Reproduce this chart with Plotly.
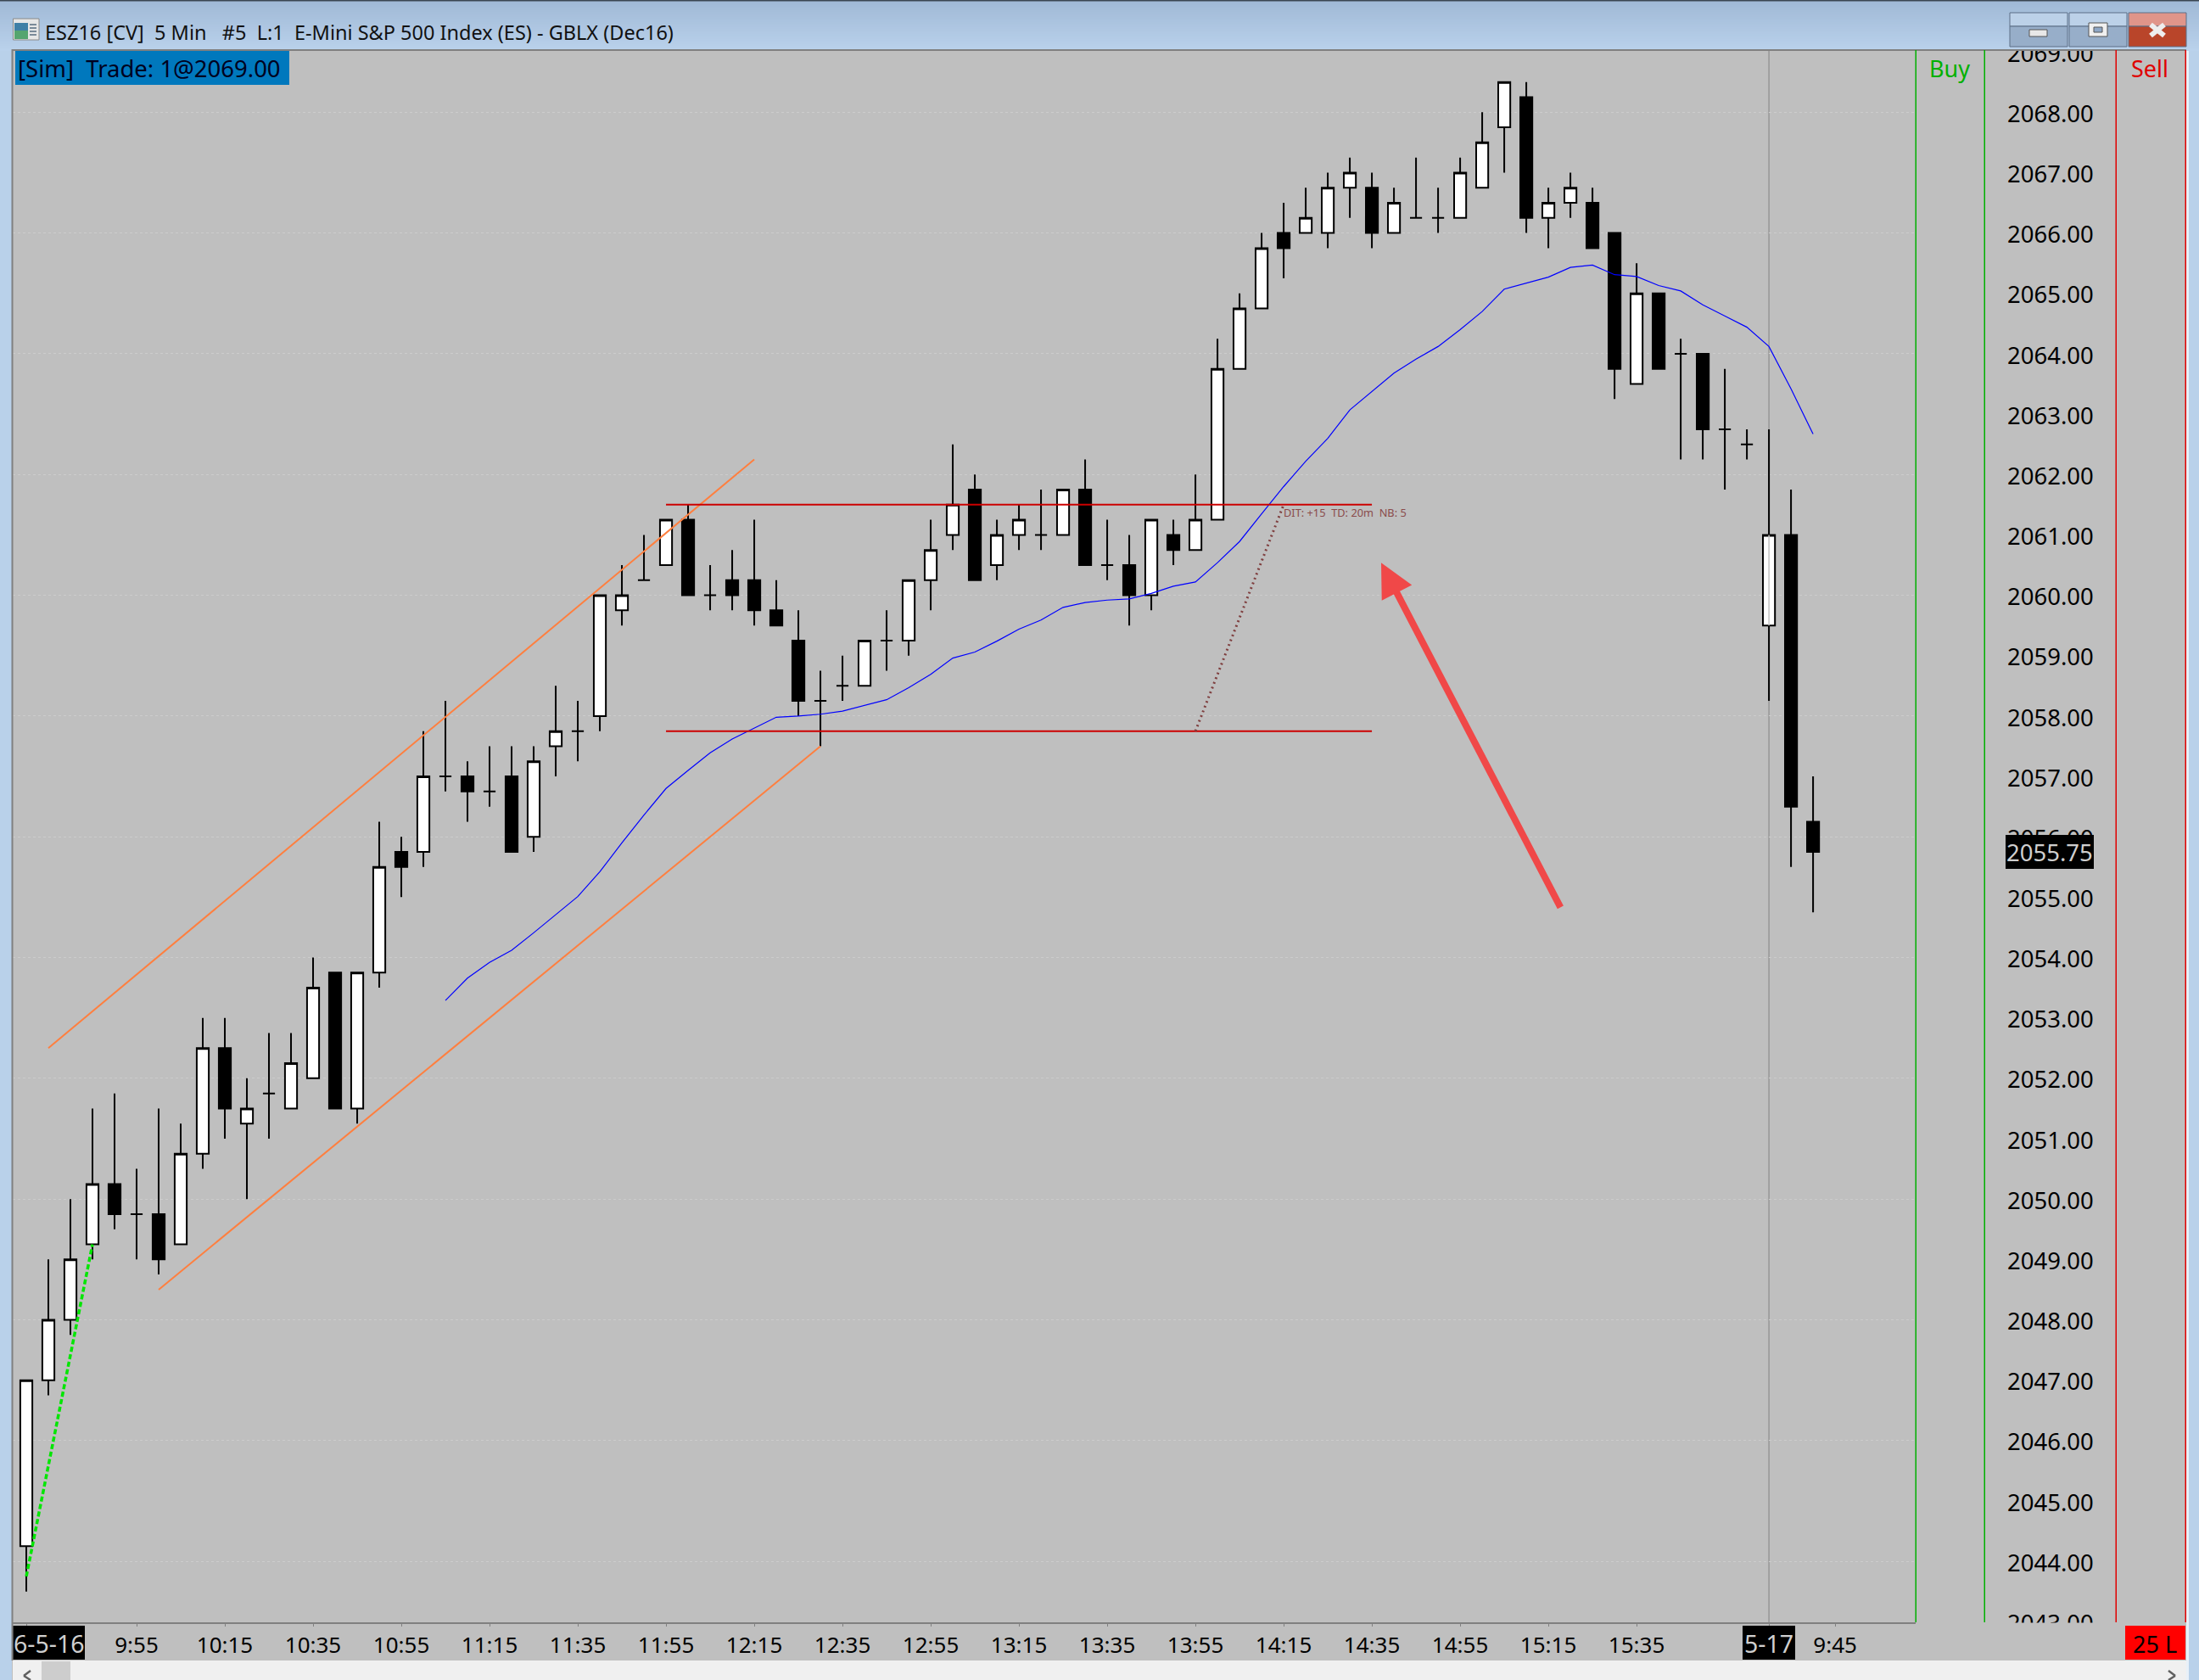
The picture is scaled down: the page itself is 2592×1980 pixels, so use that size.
#ESZ16 5 min chart inside a trading platform window

import plotly.graph_objects as go

W = 2592
H = 1980

#Candles, 5 minute bars, bar 0 is 9:30 and bar 79 is the next session open
opens = [2044.25, 2047, 2048, 2049.25, 2050.25, 2049.75, 2049.75, 2049.25, 2050.75, 2052.5,
         2051.25, 2051.75, 2051.5, 2052, 2053.75, 2051.5, 2053.75, 2055.75, 2055.75, 2057,
         2057, 2056.75, 2057, 2056, 2057.5, 2057.75, 2058, 2059.75, 2060.25, 2060.5,
         2061.25, 2060, 2060.25, 2060.25, 2059.75, 2059.25, 2058.25, 2058.5, 2058.5, 2059.25,
         2059.25, 2060.25, 2061, 2061.75, 2060.5, 2061, 2061, 2061, 2061.75, 2060.5,
         2060.5, 2060, 2061, 2060.75, 2061.25, 2063.75, 2064.75, 2066, 2066, 2066,
         2066.75, 2066.75, 2066, 2066.25, 2066.25, 2066.25, 2066.75, 2067.75, 2068.25, 2066.25,
         2066.5, 2066.5, 2066, 2063.5, 2065, 2064, 2064, 2062.75, 2062.5, 2059.5,
         2061, 2056.25]
highs = [2047, 2049, 2050, 2051.5, 2051.75, 2050.5, 2051.5, 2051.25, 2053, 2053,
         2052, 2052.75, 2052.75, 2054, 2053.75, 2053.75, 2056.25, 2056, 2057.75, 2058.25,
         2057.25, 2057.5, 2057.5, 2057.5, 2058.5, 2058.25, 2060, 2060.5, 2061, 2061.25,
         2061.5, 2060.5, 2060.75, 2061.25, 2060.25, 2059.75, 2058.75, 2059, 2059.25, 2059.75,
         2060.25, 2061.25, 2062.5, 2062, 2061.25, 2061.5, 2061.75, 2061.75, 2062.25, 2061.25,
         2061, 2061.25, 2061.25, 2062, 2064.25, 2065, 2066, 2066.5, 2066.75, 2067,
         2067.25, 2067, 2066.75, 2067.25, 2066.75, 2067.25, 2068, 2068.5, 2068.5, 2066.75,
         2067, 2066.75, 2066, 2065.5, 2065, 2064.25, 2064, 2063.75, 2062.75, 2062.75,
         2061.75, 2057]
lows = [2043.5, 2046.75, 2047.75, 2049, 2049.5, 2049, 2048.75, 2049.25, 2050.5, 2051,
        2050, 2051, 2051.5, 2052, 2051.5, 2051.25, 2053.5, 2055, 2055.5, 2056.75,
        2056.25, 2056.5, 2055.75, 2055.75, 2057, 2057.25, 2057.75, 2059.5, 2060.25, 2060.5,
        2060, 2059.75, 2059.75, 2059.5, 2059.5, 2058, 2057.5, 2058.25, 2058.5, 2058.75,
        2059, 2059.75, 2060.75, 2060.25, 2060.25, 2060.75, 2060.75, 2061, 2060.5, 2060.25,
        2059.5, 2059.75, 2060.5, 2060.75, 2061.25, 2063.75, 2064.75, 2065.25, 2066, 2065.75,
        2066.25, 2065.75, 2066, 2066.25, 2066, 2066.25, 2066.75, 2067, 2066, 2065.75,
        2066.25, 2065.75, 2063.25, 2063.5, 2063.75, 2062.25, 2062.25, 2061.75, 2062.25, 2058.25,
        2055.5, 2054.75]
closes = [2047, 2048, 2049, 2050.25, 2049.75, 2049.75, 2049, 2050.75, 2052.5, 2051.5,
          2051.5, 2051.75, 2052.25, 2053.5, 2051.5, 2053.75, 2055.5, 2055.5, 2057, 2057,
          2056.75, 2056.75, 2055.75, 2057.25, 2057.75, 2057.75, 2060, 2060, 2060.25, 2061.25,
          2060, 2060, 2060, 2059.75, 2059.5, 2058.25, 2058.25, 2058.5, 2059.25, 2059.25,
          2060.25, 2060.75, 2061.5, 2060.25, 2061, 2061.25, 2061, 2061.75, 2060.5, 2060.5,
          2060, 2061.25, 2060.75, 2061.25, 2063.75, 2064.75, 2065.75, 2065.75, 2066.25, 2066.75,
          2067, 2066, 2066.5, 2066.25, 2066.25, 2067, 2067.5, 2068.5, 2066.25, 2066.5,
          2066.75, 2065.75, 2063.75, 2065, 2063.75, 2064, 2062.75, 2062.75, 2062.5, 2061,
          2056.5, 2055.75]
bars = list(range(len(opens)))

#Moving average, starts at bar 19
ema_bars = list(range(19, 82))
ema_values = [2053.29, 2053.66, 2053.92, 2054.12, 2054.41, 2054.71, 2055.01, 2055.42, 2055.9, 2056.36,
              2056.8, 2057.1, 2057.39, 2057.62, 2057.8, 2057.98, 2058.0, 2058.03, 2058.08, 2058.18,
              2058.27, 2058.47, 2058.69, 2058.96, 2059.06, 2059.24, 2059.44, 2059.59, 2059.8, 2059.88,
              2059.92, 2059.94, 2060.03, 2060.15, 2060.22, 2060.54, 2060.89, 2061.35, 2061.8, 2062.22,
              2062.6, 2063.07, 2063.37, 2063.68, 2063.91, 2064.12, 2064.4, 2064.7, 2065.07, 2065.17,
              2065.27, 2065.43, 2065.47, 2065.31, 2065.28, 2065.13, 2065.04, 2064.81, 2064.62, 2064.44,
              2064.12, 2063.42, 2062.67]

#Drawn lines on the chart, (bar, price)
channel_top_x = [1, 33]
channel_top_y = [2052.5, 2062.25]
channel_bottom_x = [6, 36]
channel_bottom_y = [2048.5, 2057.5]
range_x = [29, 61]
range_high = [2061.5, 2061.5]
range_low = [2057.75, 2057.75]
trade_x = [53, 57]
trade_y = [2057.75, 2061.5]
leg_x = [0, 3]
leg_y = [2043.75, 2049.25]
arrow_tail = (69.58, 2054.81)
arrow_head = (61.42, 2060.54)
session_break = 79
last_price = 2055.75

#Axes
y_range = [2042.99, 2069.03]
x_range = [-0.635, 85.65]
price_ticks = list(range(2043, 2070))
grid_tick0 = 2044
time_ticks = [0, 5, 9, 13, 17, 21, 25, 29, 33, 37, 41, 45, 49, 53, 57, 61, 65, 69, 73, 79, 82]
time_labels = ["", "9:55", "10:15", "10:35", "10:55", "11:15", "11:35", "11:55", "12:15", "12:35", "12:55",
               "13:15", "13:35", "13:55", "14:15", "14:35", "14:55", "15:15", "15:35", "", "9:45"]

FONT = "Noto Sans"
BG = "#bfbfbf"
NB = "\u00a0"

#helpers for the window parts, these work in page pixels
shapes = []
notes = []


def box(x0, y0, x1, y1, color, line=None, layer="above"):
    shapes.append(dict(type="rect", xref="paper", yref="paper", layer=layer,
                       x0=x0 / W, x1=x1 / W, y0=1 - y0 / H, y1=1 - y1 / H,
                       fillcolor=color, line=dict(width=1 if line else 0, color=line or color)))


def stroke(x0, y0, x1, y1, color, width):
    shapes.append(dict(type="line", xref="paper", yref="paper", layer="above",
                       x0=x0 / W, x1=x1 / W, y0=1 - y0 / H, y1=1 - y1 / H,
                       line=dict(width=width, color=color)))


def label(x, y, text, size, color, anchor="left"):
    notes.append(dict(xref="paper", yref="paper", x=x / W, y=1 - y / H, text=text, showarrow=False,
                      xanchor=anchor, yanchor="middle", borderpad=0,
                      font=dict(family=FONT, size=size, color=color)))


#Title bar
top_col = (160, 185, 214)
bot_col = (186, 210, 236)
for k in range(30):
    c = [int(top_col[j] + (bot_col[j] - top_col[j]) * k / 29) for j in range(3)]
    box(0, k * 2, W, k * 2 + 2, "rgb(%d,%d,%d)" % tuple(c))
box(0, 0, W, 1.5, "#3a4652")

#window frame
box(0, 60, 14, H, "#b9d1ea")
box(2577, 60, W, H, "#b9d1ea")
box(2577, 60, 2580, H, "#e8f0f8")
box(14, 58, 2577, 60, "#808080")
box(13.5, 58, 15.5, 1957, "#808080")

#icon
box(15.5, 22, 46, 47, "#e6e6e6", "#8a8a8a")
box(17, 27, 33, 36, "#3f7fa6")
box(17, 36, 33, 46, "#55a56f")
for k in range(4):
    box(35, 28 + k * 4, 43, 30 + k * 4, "#7a8a99")

label(52, 38, "ESZ16 [CV]" + NB * 2 + "5 Min" + NB * 3 + "#5" + NB * 2 + "L:1" + NB * 2
      + "E-Mini S&P 500 Index (ES) - GBLX (Dec16)", 23.5, "#111111")

#window buttons
for bx0, bx1, c_top, c_bot in [(2369, 2437, "#bcd1e8", "#97aec9"), (2439, 2507, "#bcd1e8", "#97aec9"),
                               (2509, 2577, "#e0958a", "#b9452a")]:
    box(bx0, 15, bx1, 31, c_top, "#5d6f86")
    box(bx0, 31, bx1, 55, c_bot, "#5d6f86")
box(2392, 35, 2413, 43, "#e8e8e8", "#555555")
box(2462, 27, 2484, 43, "#f0f0f0", "#555555")
box(2468, 32, 2478, 38, "#8ea7c6", "#555555")
stroke(2535, 29, 2551, 42, "#eeeeee", 6)
stroke(2551, 29, 2535, 42, "#eeeeee", 6)

#Trade badge
box(18, 60, 341, 100, "#0078bd")
label(20, 81, "[Sim]" + NB * 2 + "Trade: 1@2069.00", 27.5, "#000020")

#Buy and Sell columns
box(2257.5, 59, 2259, 1912, "#00b000")
box(2338.5, 59, 2340, 1912, "#00b000")
box(2493.5, 59, 2495, 1912, "#e00000")
box(2575.5, 59, 2577, 1912, "#e00000")
label(2298, 81, "Buy", 27, "#00b000", "center")
label(2534, 81, "Sell", 27, "#e00000", "center")

#hides the lower half of the 2043.00 label
box(2345, 1912.5, 2490, 1957, BG)

#Last price tag
box(2364, 984, 2468, 1024, "#000000")
label(2416, 1004, "%.2f" % last_price, 27.5, "#cfcfcf", "center")

#Date tags and position tag
box(15.5, 1916, 100, 1956, "#000000")
label(58, 1937, "6-5-16", 28.5, "#cfcfcf", "center")
box(2054, 1916, 2116, 1956, "#000000")
label(2085, 1937, "5-17", 28.5, "#cfcfcf", "center")
box(2505, 1916, 2576, 1956, "#ff0000")
label(2540, 1937, "25 L", 27, "#000000", "center")

#Scrollbar
box(15, 1957, 2577, H, "#f0f0f0")
box(49, 1958, 83, H, "#cdcdcd")
stroke(36, 1969, 28, 1975, "#606060", 2.5)
stroke(28, 1975, 36, 1980, "#606060", 2.5)
stroke(2556, 1969, 2564, 1975, "#606060", 2.5)
stroke(2564, 1975, 2556, 1980, "#606060", 2.5)

#Session line sits under the candles
shapes.append(dict(type="line", xref="x", yref="y", layer="below",
                   x0=session_break, x1=session_break, y0=y_range[0], y1=y_range[1],
                   line=dict(width=1.5, color="#979797")))

#Trade note and arrow, these use the chart scales
notes.append(dict(xref="x", yref="y", x=trade_x[1] - 0.06, y=trade_y[1] - 0.13,
                  text="DIT: +15" + NB * 2 + "TD: 20m" + NB * 2 + "NB: 5", showarrow=False,
                  xanchor="left", yanchor="middle", borderpad=0,
                  font=dict(family=FONT, size=12.8, color="#8a4b4b")))
notes.append(dict(xref="x", yref="y", axref="x", ayref="y",
                  x=arrow_head[0], y=arrow_head[1], ax=arrow_tail[0], ay=arrow_tail[1],
                  text="", showarrow=True, arrowhead=2, arrowsize=1.0, arrowwidth=8,
                  arrowcolor="#f04848"))

fig = go.Figure()

#Candles
fig.add_trace(go.Candlestick(
    x=bars, open=opens, high=highs, low=lows, close=closes,
    increasing=dict(line=dict(color="#000000", width=2), fillcolor="#ffffff"),
    decreasing=dict(line=dict(color="#000000", width=2), fillcolor="#000000"),
    whiskerwidth=0, showlegend=False, hoverinfo="skip",
))

#The session line shows through the body of the first candle of the session
fig.add_trace(go.Scatter(x=[session_break, session_break],
                         y=[opens[session_break], closes[session_break]],
                         mode="lines", line=dict(color="#c4c4c4", width=1.5),
                         showlegend=False, hoverinfo="skip"))

#Moving average
fig.add_trace(go.Scatter(x=ema_bars, y=ema_values, mode="lines", line=dict(color="#0000ff", width=1.2),
                         showlegend=False, hoverinfo="skip"))

#Channel lines
for xs, ys in [(channel_top_x, channel_top_y), (channel_bottom_x, channel_bottom_y)]:
    fig.add_trace(go.Scatter(x=xs, y=ys, mode="lines", line=dict(color="#ff7f3f", width=2),
                             showlegend=False, hoverinfo="skip"))

#Range lines
for ys in [range_high, range_low]:
    fig.add_trace(go.Scatter(x=range_x, y=ys, mode="lines", line=dict(color="#cc0000", width=2),
                             showlegend=False, hoverinfo="skip"))

#Trade line and first leg
fig.add_trace(go.Scatter(x=trade_x, y=trade_y, mode="lines",
                         line=dict(color="#7f3f3f", width=3, dash="2px,4px"),
                         showlegend=False, hoverinfo="skip"))
fig.add_trace(go.Scatter(x=leg_x, y=leg_y, mode="lines",
                         line=dict(color="#00e600", width=3.5, dash="6px,3px"),
                         showlegend=False, hoverinfo="skip"))

#Only there so the price axis has something to belong to
fig.add_trace(go.Scatter(x=[0] * len(price_ticks), y=price_ticks, yaxis="y2", mode="markers",
                         marker=dict(opacity=0), showlegend=False, hoverinfo="skip"))

fig.update_layout(
    width=W, height=H,
    margin=dict(l=0, r=0, t=0, b=0, pad=0, autoexpand=False),
    paper_bgcolor=BG, plot_bgcolor=BG,
    showlegend=False,
    boxgap=0.22,
    hovermode=False,
    shapes=shapes,
    annotations=notes,
    font=dict(family=FONT, size=26, color="#000000"),
    xaxis=dict(
        domain=[14.5 / W, 2258 / W], range=x_range, type="linear", automargin=False,
        rangeslider=dict(visible=False),
        showgrid=False, zeroline=False,
        showline=True, linecolor="#808080", linewidth=2,
        tickmode="array", tickvals=time_ticks, ticktext=time_labels,
        ticks="outside", ticklen=3, tickwidth=1, tickcolor="#808080",
        tickfont=dict(family=FONT, size=26, color="#000000"),
        ticklabelstandoff=0,
    ),
    yaxis=dict(
        domain=[1 - 1912 / H, 1 - 59 / H], range=y_range, automargin=False,
        showgrid=True, gridcolor="#cccccc", gridwidth=1, griddash="dot",
        tick0=grid_tick0, dtick=2,
        zeroline=False, showline=False, ticks="", showticklabels=False,
    ),
    yaxis2=dict(
        overlaying="y", side="right", anchor="free", position=2365 / W, automargin=False,
        range=y_range, showgrid=False, zeroline=False, showline=False, ticks="",
        tickmode="array", tickvals=price_ticks, tickformat=".2f",
        tickfont=dict(family=FONT, size=27.5, color="#000000"),
        ticklabelshift=2,
    ),
)

# Saving to a HTML file
fig.write_html("out.html", config=dict(displayModeBar=False),
               post_script="document.body.style.margin='0';document.body.style.overflow='hidden';")
